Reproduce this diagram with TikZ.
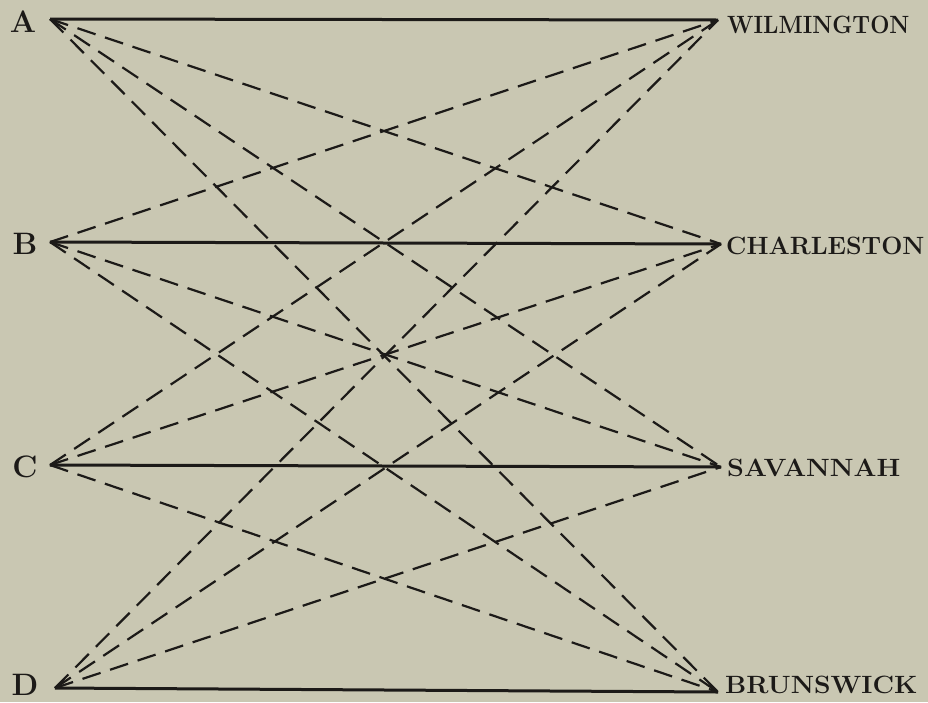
\documentclass[tikz,border=0pt]{standalone}
\usepackage{fontspec}
\setmainfont{Latin Modern Roman}
\definecolor{paper}{RGB}{201,199,178}
\definecolor{ink}{RGB}{28,26,24}
\tikzset{
  solidline/.style={draw=ink,line width=3pt},
  dashline/.style={draw=ink,line width=2.2pt,dash pattern=on 19pt off 10pt},
  leftlab/.style={text=ink,font=\fontsize{31}{31}\selectfont\bfseries,anchor=center,inner sep=0pt},
  rightlab/.style={text=ink,font=\fontsize{25}{25}\selectfont\bfseries,anchor=west,inner sep=0pt},
}
\begin{document}
\begin{tikzpicture}[x=1pt,y=-1pt]
\fill[paper] (0,0) rectangle (928,702);
\useasboundingbox (0,0) rectangle (928,702);
% left points
\coordinate (a) at (50,19);
\coordinate (b) at (50,242);
\coordinate (c) at (50,465);
\coordinate (d) at (55,688);
% right points
\coordinate (w) at (718,20);
\coordinate (ch) at (721,244);
\coordinate (s) at (721,467);
\coordinate (br) at (718,692);
% labels
\node[leftlab] (la) at (23,22) {A};
\node[leftlab] (lb) at (25,244) {B};
\node[leftlab] (lc) at (25,467) {C};
\node[leftlab] (ld) at (25,685) {D};
\node[rightlab,xscale=0.91] (lw) at (727,25) {WILMINGTON};
\node[rightlab] (lch) at (726,246) {CHARLESTON};
\node[rightlab,xscale=1.08] (ls) at (727,468) {SAVANNAH};
\node[rightlab,xscale=1.06] (lbr) at (725,685) {BRUNSWICK};
% solid lines
\draw[solidline] (a) -- (w);
\draw[solidline] (b) -- (ch);
\draw[solidline] (c) -- (s);
\draw[solidline] (d) -- (br);
% dashed lines
\foreach \l/\r in {a/ch,a/s,a/br,b/w,b/s,b/br,c/w,c/ch,c/br,d/w,d/ch,d/s}{
  \draw[dashline] (\l) -- (\r);
}
\end{tikzpicture}
\end{document}
